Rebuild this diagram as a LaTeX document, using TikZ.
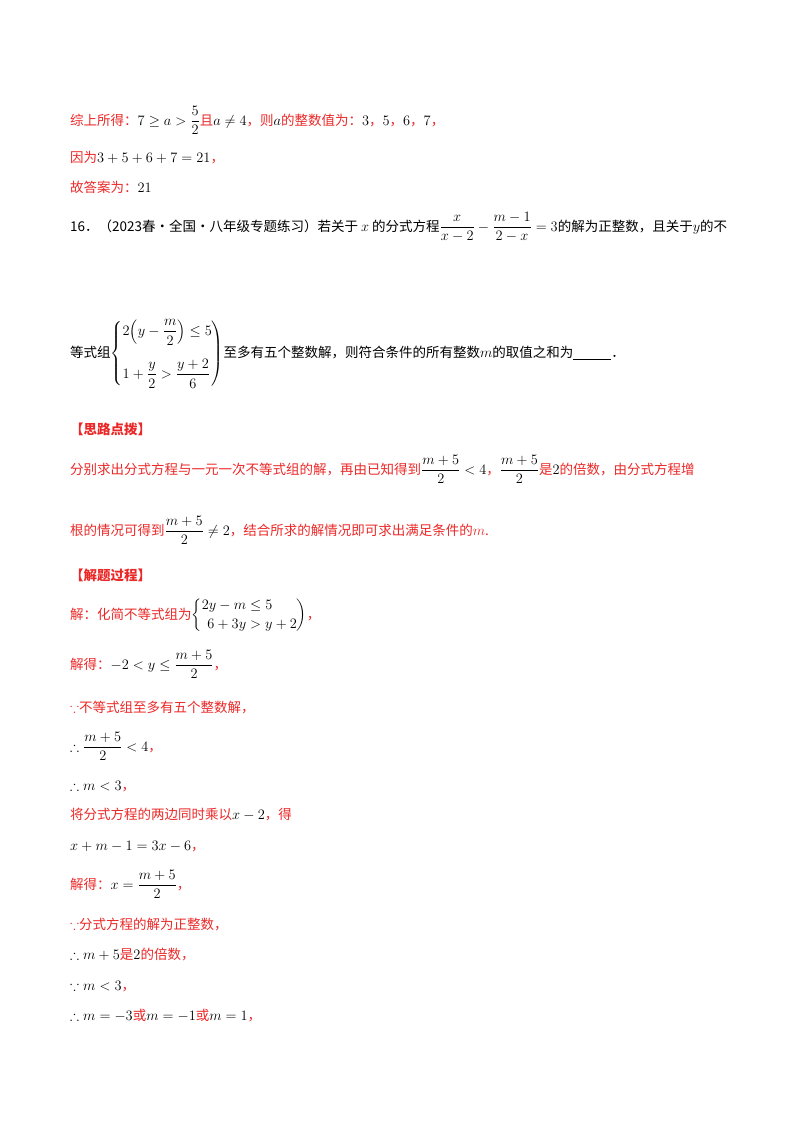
\documentclass[tikz,border=0pt]{standalone}
\usepackage{amsmath,amssymb}
\usepackage{fontspec}
\setmainfont{Noto Sans CJK SC}
\definecolor{rd}{RGB}{235,40,40}
\newcommand{\R}[1]{\textcolor{rd}{#1}}
\begin{document}
\begin{tikzpicture}[x=1pt,y=-1pt,every node/.style={anchor=base west,inner sep=0pt,font=\fontsize{13.5}{16}\selectfont},
 hd/.style={font=\fontsize{13.5}{16}\selectfont\bfseries,text=rd}]
\useasboundingbox (0,0) rectangle (800,1132);
\node (l1) at (70,125) {\R{综上所得：}$7\ge a>\dfrac52$\R{且}$a\ne4$\R{，则}$a$\R{的整数值为：}$3$\R{，}$5$\R{，}$6$\R{，}$7$\R{，}};
\node (l2) at (70,162) {\R{因为}$3+5+6+7=21$\R{，}};
\node (l3) at (70,192) {\R{故答案为：}$21$};
\node (q1) at (70,231) {16．（2023春·全国·八年级专题练习）若关于 $x$ 的分式方程$\dfrac{x}{x-2}-\dfrac{m-1}{2-x}=3$的解为正整数，且关于$y$的不};
\node (q2) at (70,357) {等式组$\left\{\begin{aligned}&2\Bigl(y-\dfrac m2\Bigr)\le5\\[10pt]&1+\dfrac y2>\dfrac{y+2}{6}\end{aligned}\right)$至多有五个整数解，则符合条件的所有整数$m$的取值之和为\underline{\hspace{2.8em}}．};
\node[hd] (h1) at (70,434) {【思路点拨】};
\node (s1) at (70,474) {\R{分别求出分式方程与一元一次不等式组的解，再由已知得到}$\dfrac{m+5}{2}<4$\R{，}$\dfrac{m+5}{2}$\R{是}$2$\R{的倍数，由分式方程增}};
\node (s2) at (70,535) {\R{根的情况可得到}$\dfrac{m+5}{2}\ne2$\R{，结合所求的解情况即可求出满足条件的}$\textcolor{rd}{m}$\R{.}};
\node[hd] (h2) at (70,580) {【解题过程】};
\node (a1) at (70,619) {\R{解：化简不等式组为}$\left\{\begin{aligned}2y-m&\le5\\6+3y&>y+2\end{aligned}\right)$\R{，}};
\node (a2) at (70,669) {\R{解得：}$-2<y\le\dfrac{m+5}{2}$\R{，}};
\node (a3) at (70,712) {\R{$\because$不等式组至多有五个整数解，}};
\node (a4) at (70,751) {$\therefore\dfrac{m+5}{2}<4$\R{，}};
\node (a5) at (70,790) {$\therefore m<3$\R{，}};
\node (a6) at (70,819) {\R{将分式方程的两边同时乘以}$x-2$\R{，得}};
\node (a7) at (70,850) {$x+m-1=3x-6$\R{，}};
\node (a8) at (70,889) {\R{解得：}$x=\dfrac{m+5}{2}$\R{，}};
\node (a9) at (70,929) {\R{$\because$分式方程的解为正整数，}};
\node (a10) at (70,959) {$\therefore m+5$\R{是}$2$\R{的倍数，}};
\node (a11) at (70,990) {$\because m<3$\R{，}};
\node (a12) at (70,1020) {$\therefore m=-3$\R{或}$m=-1$\R{或}$m=1$\R{，}};
\end{tikzpicture}
\end{document}
